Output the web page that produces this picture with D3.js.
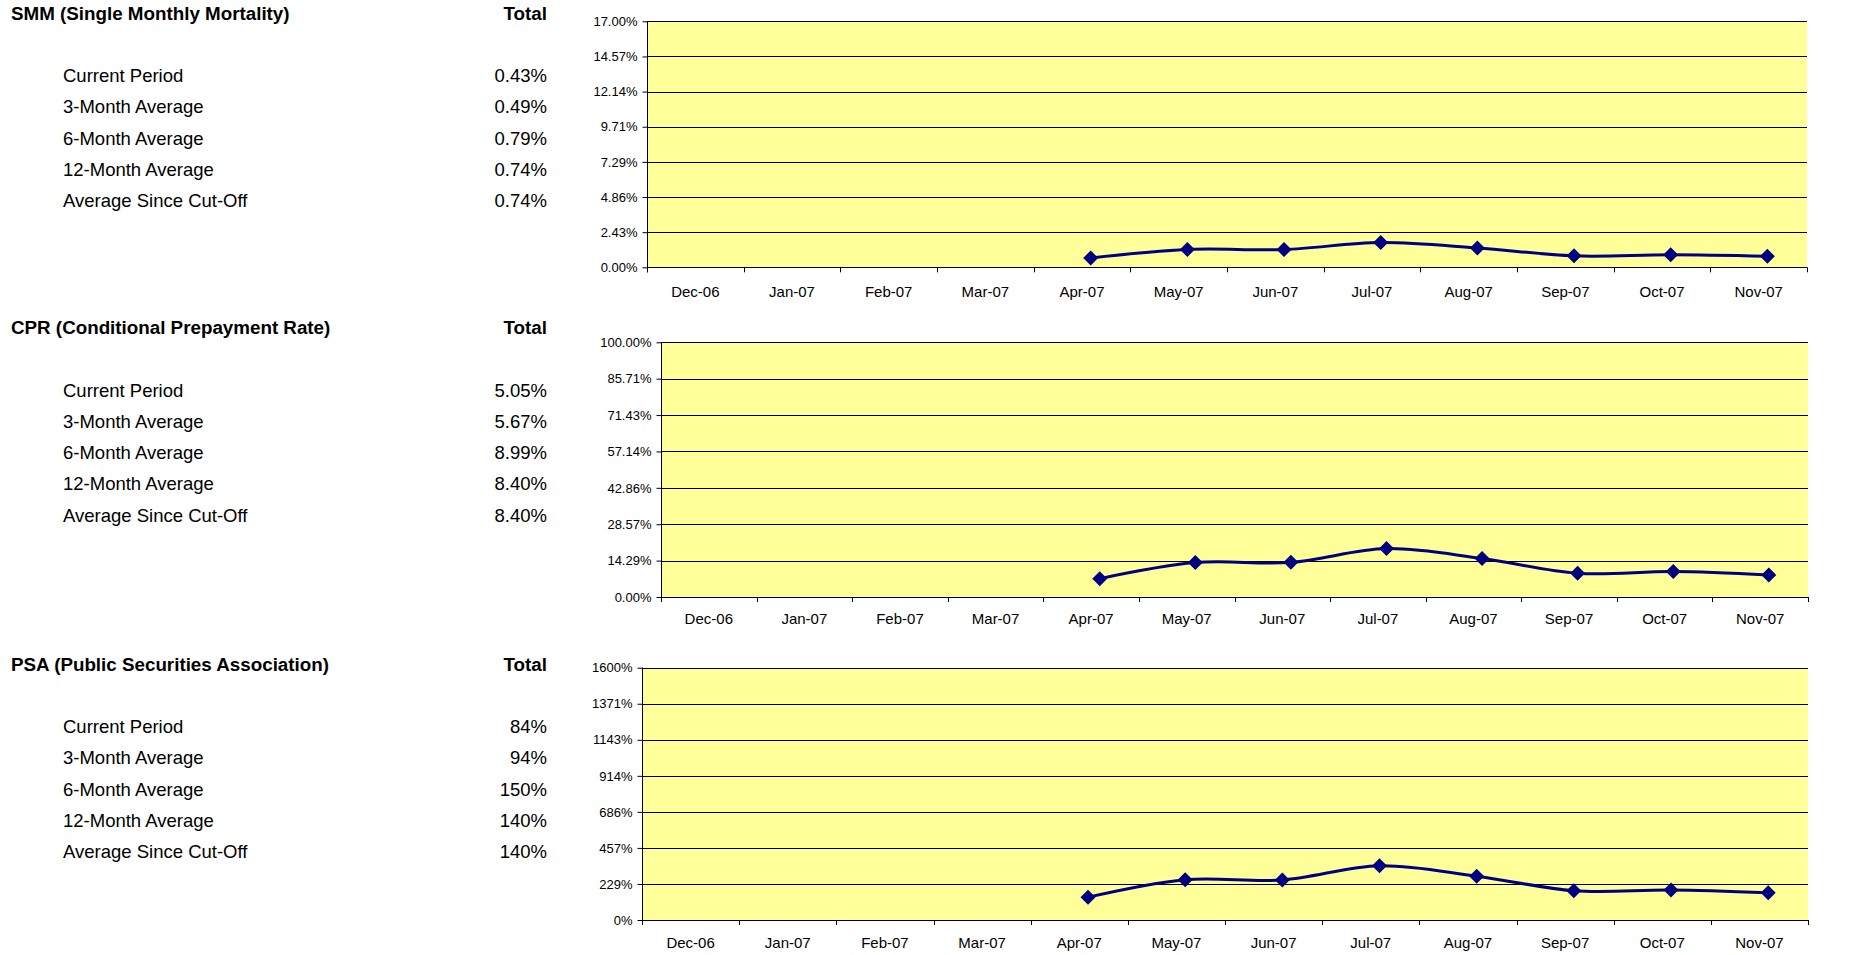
<!DOCTYPE html>
<html><head><meta charset="utf-8">
<script src="https://cdn.jsdelivr.net/npm/d3@7"></script>
<style>
body{margin:0;background:#fff;}
svg{display:block;}
text{font-family:Arial,"Liberation Sans",sans-serif;fill:#000;}
</style>
</head><body>
<svg id="c" width="1851" height="955"></svg>
<script>
// ---- data ----
const months = ["Dec-06","Jan-07","Feb-07","Mar-07","Apr-07","May-07","Jun-07","Jul-07","Aug-07","Sep-07","Oct-07","Nov-07"];
const smmValues = [null,null,null,null,0.65,1.23,1.23,1.71,1.34,0.79,0.86,0.76];
const cprValues = [null,null,null,null,7.2,13.5,13.6,19.0,15.1,9.3,10.0,8.65];
const psaValues = [null,null,null,null,145,256,254,344,278,186,190,173];
const smmTicks = ["0.00%","2.43%","4.86%","7.29%","9.71%","12.14%","14.57%","17.00%"];
const cprTicks = ["0.00%","14.29%","28.57%","42.86%","57.14%","71.43%","85.71%","100.00%"];
const psaTicks = ["0%","229%","457%","686%","914%","1143%","1371%","1600%"];
const smmMax = 17, cprMax = 100, psaMax = 1600;
const statLabels = ["Current Period","3-Month Average","6-Month Average","12-Month Average","Average Since Cut-Off"];
const smmStats = ["0.43%","0.49%","0.79%","0.74%","0.74%"];
const cprStats = ["5.05%","5.67%","8.99%","8.40%","8.40%"];
const psaStats = ["84%","94%","150%","140%","140%"];
const titles = ["SMM (Single Monthly Mortality)","CPR (Conditional Prepayment Rate)","PSA (Public Securities Association)"];
const totalHeader = "Total";

// ---- layout ----
const panels = [
  {title:titles[0], stats:smmStats, values:smmValues, ticks:smmTicks, max:smmMax,
   titleY:19.5, row0:82, x0:647, x1:1807, y0:21.3, y1:267.3, xlab:297},
  {title:titles[1], stats:cprStats, values:cprValues, ticks:cprTicks, max:cprMax,
   titleY:333.5, row0:396.5, x0:661, x1:1808, y0:342.3, y1:597, xlab:624.3},
  {title:titles[2], stats:psaStats, values:psaValues, ticks:psaTicks, max:psaMax,
   titleY:671, row0:733, x0:642, x1:1808, y0:667.7, y1:920, xlab:948}
];
const rowStep = 31.3;
const labelX = 63, titleX = 11, valueX = 547;
const navy = "#000080";

const svg = d3.select("#c");

panels.forEach(p => {
  const g = svg.append("g");
  // left text block
  g.append("text").attr("x", titleX).attr("y", p.titleY)
    .style("font-size","18.8px").style("font-weight","bold").text(p.title);
  g.append("text").attr("x", valueX).attr("y", p.titleY).attr("text-anchor","end")
    .style("font-size","18.8px").style("font-weight","bold").text(totalHeader);
  statLabels.forEach((l,i) => {
    g.append("text").attr("x", labelX).attr("y", p.row0 + i*rowStep)
      .style("font-size","18.5px").text(l);
    g.append("text").attr("x", valueX).attr("y", p.row0 + i*rowStep).attr("text-anchor","end")
      .style("font-size","18.5px").text(p.stats[i]);
  });

  // scales
  const x = d3.scaleBand().domain(months).range([p.x0, p.x1]).padding(0);
  const y = d3.scaleLinear().domain([0, p.max]).range([p.y1, p.y0]);
  const tickVals = p.ticks.map((t,i) => p.max * i / (p.ticks.length - 1));

  // plot background
  g.append("rect").attr("x", p.x0).attr("y", p.y0).attr("width", p.x1 - p.x0).attr("height", p.y1 - p.y0)
    .attr("fill", "#FFFF99");

  // gridlines
  g.selectAll(".grid").data(tickVals).enter().append("line")
    .attr("x1", p.x0).attr("x2", p.x1)
    .attr("y1", d => Math.round(y(d)) + 0.5).attr("y2", d => Math.round(y(d)) + 0.5)
    .attr("stroke", "#000").attr("stroke-width", 1);

  // y axis
  const ya = d3.axisLeft(y).tickValues(tickVals).tickFormat((d,i) => p.ticks[i]).tickSize(5).tickPadding(5);
  const yg = g.append("g").attr("transform", `translate(${Math.round(p.x0)+0.5},0)`).call(ya);
  yg.select(".domain").remove();
  yg.selectAll(".tick line").attr("stroke","#000");
  yg.selectAll(".tick text").style("font-size","13px").style("font-family","Arial, 'Liberation Sans', sans-serif").attr("fill","#000");
  g.append("line").attr("x1", Math.round(p.x0)+0.5).attr("x2", Math.round(p.x0)+0.5)
    .attr("y1", p.y0).attr("y2", p.y1 + 5).attr("stroke","#000");

  // x axis labels
  const xa = d3.axisBottom(x).tickSize(0).tickPadding(0);
  const xg = g.append("g").attr("transform", `translate(0,${p.xlab})`).call(xa);
  xg.select(".domain").remove();
  xg.selectAll(".tick text").attr("dy", 0).attr("y", 0)
    .style("font-size","15px").style("font-family","Arial, 'Liberation Sans', sans-serif").attr("fill","#000");

  // x axis line + boundary ticks
  g.append("line").attr("x1", p.x0).attr("x2", p.x1)
    .attr("y1", Math.round(p.y1)+0.5).attr("y2", Math.round(p.y1)+0.5).attr("stroke","#000");
  const bounds = months.map(m => x(m)).concat([p.x1]);
  g.selectAll(".xt").data(bounds).enter().append("line")
    .attr("x1", d => Math.round(d)+0.5).attr("x2", d => Math.round(d)+0.5)
    .attr("y1", p.y1).attr("y2", p.y1 + 5).attr("stroke","#000");

  // series
  const px = m => x(m) + x.bandwidth() * 0.59;
  const pts = months.map((m,i) => ({m, v:p.values[i]}));
  const line = d3.line().defined(d => d.v != null)
    .x(d => px(d.m)).y(d => y(d.v)).curve(d3.curveCardinal.tension(0));
  g.append("path").datum(pts).attr("d", line)
    .attr("fill","none").attr("stroke", navy).attr("stroke-width", 3).attr("stroke-linejoin","round");
  const s = 7.5;
  g.selectAll(".mk").data(pts.filter(d => d.v != null)).enter().append("path")
    .attr("d", d => { const cx = px(d.m), cy = y(d.v);
      return `M${cx},${cy-s}L${cx+s},${cy}L${cx},${cy+s}L${cx-s},${cy}Z`; })
    .attr("fill", navy);
});
</script>
</body></html>
